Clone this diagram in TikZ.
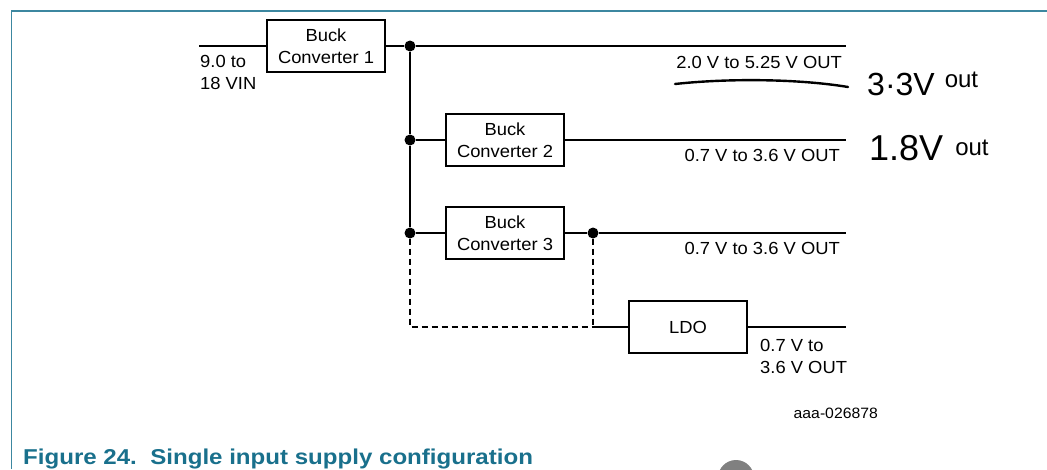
\documentclass[tikz,border=0pt]{standalone}
\usepackage{fontspec}
\setmainfont{Liberation Sans}[FakeStretch=1.05]
\newfontfamily\titlefont{Liberation Sans}[FakeStretch=1.12]
\newfontfamily\handfont{Liberation Sans}
\definecolor{framecol}{RGB}{60,135,160}
\definecolor{titlecol}{RGB}{25,112,140}
\definecolor{blobcol}{RGB}{128,128,128}
\tikzset{
  x=1pt, y=-1pt,
  wire/.style={line width=1.2pt, black},
  dashwire/.style={line width=1.1pt, black, dash pattern=on 6pt off 4pt},
  blockbox/.style={draw, line width=1.2pt, minimum width=118pt, minimum height=52pt, inner sep=0pt, align=center, font=\fontsize{17.5}{22}\selectfont},
  dot/.style={circle, fill=black, inner sep=0pt, minimum size=11pt},
  lbl/.style={inner sep=0pt, font=\fontsize{17.5}{22}\selectfont},
  hand/.style={inner sep=0pt, font=\handfont},
}
\begin{document}
\begin{tikzpicture}
\useasboundingbox (0,0) rectangle (1047,469);
% frame
\draw[framecol, line width=1.5pt] (11.5,469) -- (11.5,11) -- (1047,11);
% blob at bottom
\begin{scope}
  \clip (0,0) rectangle (1047,469);
  \fill[blobcol] (736,478) circle (18);
\end{scope}

% blocks
\node[blockbox] (b1) at (326,46) {Buck\\Converter 1};
\node[blockbox] (b2) at (505,140) {Buck\\Converter 2};
\node[blockbox] (b3) at (505,233) {Buck\\Converter 3};
\node[blockbox] (ldo) at (688,327) {LDO};

% junctions
\node[dot] (j1) at (410,46) {};
\node[dot] (j2) at (410,140) {};
\node[dot] (j3) at (410,233) {};
\node[dot] (j4) at (593,233) {};

% free ends
\coordinate (vin) at (199,46);
\coordinate (o1) at (846,46);
\coordinate (o2) at (846,140);
\coordinate (o3) at (846,233);
\coordinate (o4) at (846,327);
\coordinate (c1) at (410,327);
\coordinate (c2) at (593,327);

% wires
\draw[wire] (vin) -- (b1.west);
\draw[wire] (b1.east) -- (j1) -- (o1);
\draw[wire] (j1) -- (j2) -- (j3);
\draw[wire] (j2) -- (b2.west);
\draw[wire] (b2.east) -- (o2);
\draw[wire] (j3) -- (b3.west);
\draw[wire] (b3.east) -- (j4) -- (o3);
\draw[dashwire] (j3) -- (c1) -- (c2);
\draw[dashwire] (j4) -- (c2);
\draw[wire] (c2) -- (ldo.west);
\draw[wire] (ldo.east) -- (o4);

% labels
\node[lbl, anchor=north west, align=left] (vinlbl) at (200,55) {9.0 to\\18 VIN};
\node[lbl, anchor=base east] (l1) at (842,68) {2.0 V to 5.25 V OUT};
\node[lbl, anchor=base east] (l2) at (840,161) {0.7 V to 3.6 V OUT};
\node[lbl, anchor=base east] (l3) at (840,254) {0.7 V to 3.6 V OUT};
\node[lbl, anchor=north west, align=left] (l4) at (760,339) {0.7 V to\\3.6 V OUT};
\node[inner sep=0pt, anchor=base east, font=\fontsize{15}{17}\selectfont] (id) at (878,418) {aaa-026878};

% handwritten annotations
\coordinate (s1) at (675,84);
\coordinate (s2) at (848,87);
\draw[line width=2.4pt, line cap=round] (s1) .. controls (730,78) and (800,79) .. (s2);
\node[hand, anchor=base west] (h1) at (867,95) {{\fontsize{32}{32}\selectfont 3·3V}\hspace{10pt}\raisebox{8pt}{\fontsize{24}{24}\selectfont out}};
\node[hand, anchor=base west] (h2) at (869,160) {{\fontsize{36}{36}\selectfont 1.8V}\hspace{12pt}\raisebox{5pt}{\fontsize{24}{24}\selectfont out}};

% caption
\node[inner sep=0pt, anchor=base west, text=titlecol, font=\titlefont\bfseries\fontsize{21.5}{25}\selectfont] (cap) at (23,464) {Figure 24.\ \ Single input supply configuration};
\end{tikzpicture}
\end{document}
